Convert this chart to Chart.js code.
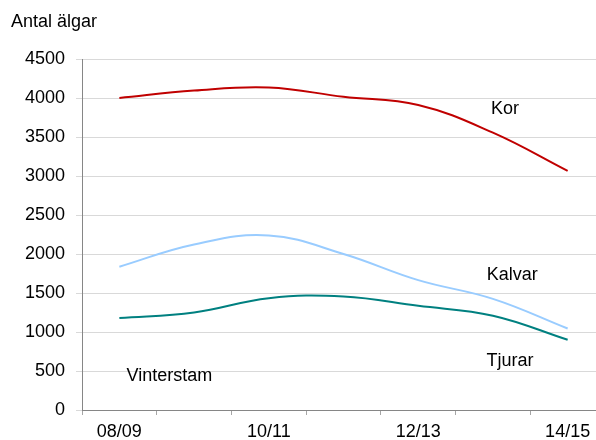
<!DOCTYPE html>
<html>
<head>
<meta charset="utf-8">
<script src="https://cdn.jsdelivr.net/npm/chart.js@4"></script>
<style>
  html, body { margin: 0; padding: 0; background: #fff; overflow: hidden; }
  #wrap { width: 596px; height: 440px; overflow: hidden; }
</style>
</head>
<body>
<div id="wrap"><canvas id="moose" width="605" height="440"></canvas></div>
<script>
// Älgstammen vintertid, 08/09 - 14/15
const seasons = ["08/09", "09/10", "10/11", "11/12", "12/13", "13/14", "14/15"];
const kor = [4000, 4095, 4135, 4015, 3910, 3555, 3065];
const kalvar = [1837, 2122, 2237, 2000, 1665, 1425, 1045];
const tjurar = [1179, 1251, 1434, 1455, 1336, 1209, 900];
const yTicks = [0, 500, 1000, 1500, 2000, 2500, 3000, 3500, 4000, 4500];

const FONT = "'Liberation Sans', Arial, sans-serif";

// text labels placed in data coordinates (category index, value)
const seriesLabels = [
  { text: "Kor", idx: 5.16, val: 3855 },
  { text: "Kalvar", idx: 5.26, val: 1733 },
  { text: "Tjurar", idx: 5.23, val: 622 },
  { text: "Vinterstam", idx: 0.67, val: 440 },
];

const textPlugin = {
  id: "texts",
  afterDraw(chart) {
    const ctx = chart.ctx;
    const x = chart.scales.x, y = chart.scales.y;
    ctx.save();
    ctx.fillStyle = "#000";
    ctx.font = "18px " + FONT;
    ctx.textBaseline = "middle";
    ctx.textAlign = "left";
    ctx.fillText("Antal älgar", 11, 22.5);
    ctx.textAlign = "center";
    seriesLabels.forEach(function (l) {
      ctx.fillText(l.text, x.getPixelForValue(l.idx), y.getPixelForValue(l.val));
    });
    ctx.restore();
  },
};

function line(data, color) {
  return {
    data: data,
    borderColor: color,
    borderWidth: 2,
    pointRadius: 0,
    tension: 0.4,
    fill: false,
  };
}

new Chart(document.getElementById("moose"), {
  type: "line",
  data: {
    labels: seasons,
    datasets: [
      line(kor, "#c00000"),
      line(kalvar, "#99ccff"),
      line(tjurar, "#008080"),
    ],
  },
  options: {
    responsive: false,
    animation: false,
    devicePixelRatio: 1,
    layout: { padding: { top: 59, left: 0, right: 0, bottom: 0 } },
    plugins: {
      legend: { display: false },
      tooltip: { enabled: false },
    },
    scales: {
      x: {
        offset: true,
        grid: {
          offset: true,
          drawOnChartArea: false,
          drawTicks: true,
          tickLength: 5,
          color: "#a6a6a6",
        },
        border: { color: "#868686", width: 1 },
        ticks: {
          autoSkip: false,
          maxRotation: 0,
          padding: 6,
          color: "#000",
          font: { family: FONT, size: 18 },
          callback: function (v, i) {
            return i % 2 === 0 ? seasons[i] : "";
          },
        },
        afterFit: function (s) { s.height = 30; },
      },
      y: {
        min: 0,
        max: 4500,
        afterBuildTicks: function (s) {
          s.ticks = yTicks.map(function (v) { return { value: v }; });
        },
        grid: {
          color: "#d9d9d9",
          tickLength: 6,
        },
        border: { color: "#868686", width: 1 },
        ticks: {
          padding: 11,
          color: "#000",
          font: { family: FONT, size: 18 },
          callback: function (v) { return String(v); },
        },
        afterFit: function (s) { s.width = 82; },
      },
    },
  },
  plugins: [textPlugin],
});
</script>
</body>
</html>
